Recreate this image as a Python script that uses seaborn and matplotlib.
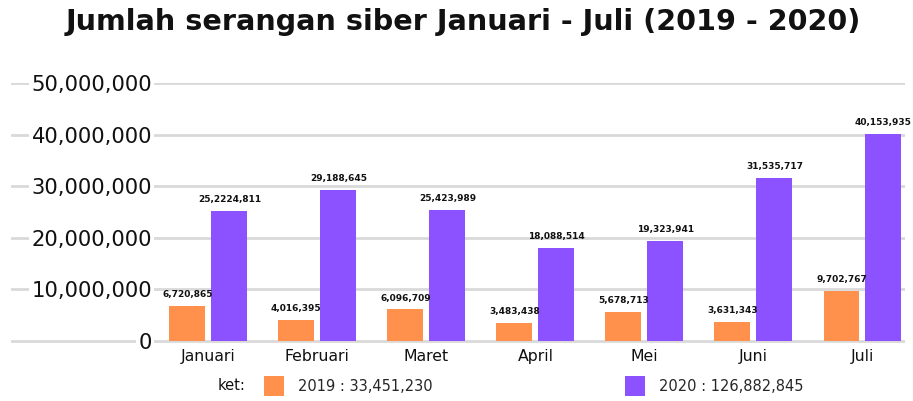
import pandas as pd
import seaborn as sns
import matplotlib.pyplot as plt

MONTHS = ['Januari', 'Februari', 'Maret', 'April', 'Mei', 'Juni', 'Juli']
YEARS = ['2019', '2020']
ATTACKS_2019 = [6720865, 4016395, 6096709, 3483438, 5678713, 3631343, 9702767]
ATTACKS_2020 = [25224811, 29188645, 25423989, 18088514, 19323941, 31535717, 40153935]
LABELS_2019 = ['6,720,865', '4,016,395', '6,096,709', '3,483,438', '5,678,713', '3,631,343', '9,702,767']
LABELS_2020 = ['25,2224,811', '29,188,645', '25,423,989', '18,088,514', '19,323,941', '31,535,717', '40,153,935']
LEGEND_LABELS = ['2019 : 33,451,230', '2020 : 126,882,845']
Y_TICKS = [0, 10000000, 20000000, 30000000, 40000000, 50000000]
COLORS = ['#FF914D', '#8C52FF']

TITLE = 'Jumlah serangan siber Januari - Juli (2019 - 2020)'


def build_frame():
    df_2019 = pd.DataFrame({'bulan': MONTHS, 'serangan': ATTACKS_2019, 'tahun': YEARS[0]})
    df_2020 = pd.DataFrame({'bulan': MONTHS, 'serangan': ATTACKS_2020, 'tahun': YEARS[1]})
    return pd.concat([df_2019, df_2020]).reset_index(drop=True)


def attacks_barplot(df):
    fig = plt.figure(figsize=(9.13, 4.01), dpi=100)
    ax = fig.add_axes([11 / 913, 1 - 343 / 401, (905 - 11) / 913, (343 - 83) / 401])

    sns.barplot(data=df, x='bulan', y='serangan', hue='tahun', order=MONTHS,
                hue_order=YEARS, palette=COLORS, width=0.77, gap=0.143,
                saturation=1, linewidth=0, ax=ax)

    for container, labels in zip(ax.containers, [LABELS_2019, LABELS_2020]):
        ax.bar_label(container, labels=labels, padding=5, fontsize=6.5,
                     fontweight='bold', color='#111111')

    # a little room under zero so the bottom grid line is not clipped
    ax.set_xlim(-1.81, 6.39)
    ax.set_ylim(-400000, 50000000)
    ax.set_yticks(Y_TICKS)
    ax.set_yticklabels(['{:,}'.format(v) for v in Y_TICKS])
    ax.yaxis.grid(True, color='#d9d9d9', linewidth=2)
    ax.xaxis.grid(False)
    ax.set_axisbelow(True)
    for spine in ax.spines.values():
        spine.set_visible(False)

    ax.tick_params(axis='y', length=0, pad=-101.5, labelsize=15.2, labelcolor='#111111')
    for label in ax.get_yticklabels():
        label.set_horizontalalignment('right')
        label.set_bbox(dict(facecolor='white', edgecolor='none', pad=1.5))
    ax.tick_params(axis='x', length=0, pad=4, labelsize=11.3, labelcolor='#111111')
    ax.set_xlabel('')
    ax.set_ylabel('')

    handles, _ = ax.get_legend_handles_labels()
    ax.legend(handles, LEGEND_LABELS, ncol=2, loc='center',
              bbox_to_anchor=(533.5 / 913, 1 - 386 / 401), bbox_transform=fig.transFigure,
              frameon=False, fontsize=10.5, handlelength=1.37, handleheight=1.7,
              handletextpad=0.96, columnspacing=13.2)
    fig.text(245 / 913, 1 - 386 / 401, 'ket:', ha='right', va='center', fontsize=10.5,
             color='#111111')

    fig.text(0.508, 1 - 22 / 401, TITLE, ha='center', va='center', fontsize=20.6,
             fontweight='bold', color='#111111')

    fig.savefig('out.png', dpi=100)
    plt.close(fig)


if __name__ == '__main__':
    sns.set_style('white')
    plt.rcParams['font.family'] = ['DejaVu Sans']
    attacks_barplot(build_frame())
